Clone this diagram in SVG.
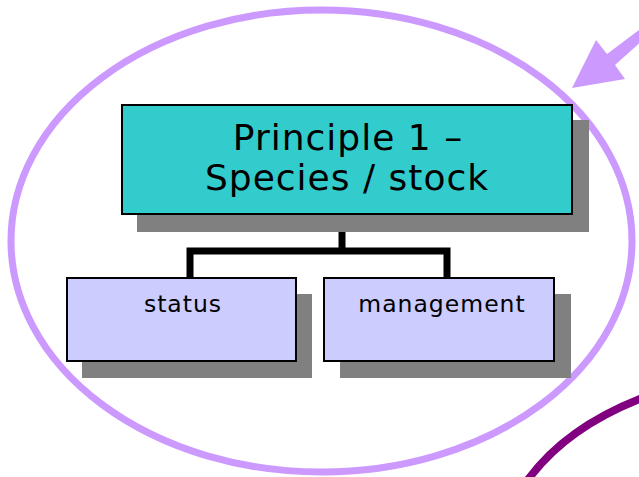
<svg xmlns="http://www.w3.org/2000/svg" width="639" height="477" viewBox="0 0 639 477">
<style>
.shadow{fill:#808080}
.box{stroke:#000;stroke-width:2}
.main{fill:#33CCCC}
.sub{fill:#CCCCFF}
.t{font-family:"DejaVu Sans","Verdana",sans-serif;fill:#000;text-anchor:middle}
.big{font-size:36px;letter-spacing:1px}
.small{font-size:23.5px;letter-spacing:1px}
.conn{fill:none;stroke:#000;stroke-width:7}
</style>
<rect width="639" height="477" fill="#fff"/>
<g id="ellipse">
<ellipse cx="321.5" cy="241" rx="310.5" ry="231" fill="none" stroke="#CC99FF" stroke-width="7"/>
</g>
<g id="arrow">
<polygon points="572,88 596,40 607,54 643,27 643,40 615,65 625,79" fill="#CC99FF"/>
</g>
<g id="arc">
<path d="M527 481 Q565 428 642 398" fill="none" stroke="#800080" stroke-width="8"/>
</g>
<g id="connectors">
<path class="conn" d="M342 214 V251"/>
<path class="conn" d="M190 279 V251 H447 V279"/>
</g>
<g id="principle">
<rect class="shadow" x="137" y="120" width="452" height="112"/>
<rect class="box main" x="122" y="105" width="450" height="109"/>
<text class="t big" x="348" y="150">Principle 1 –</text>
<text class="t big" x="347" y="190">Species / stock</text>
</g>
<g id="status">
<rect class="shadow" x="82" y="294" width="230" height="84"/>
<rect class="box sub" x="67" y="278" width="229" height="83"/>
<text class="t small" x="183" y="312">status</text>
</g>
<g id="management">
<rect class="shadow" x="340" y="294" width="231" height="84"/>
<rect class="box sub" x="324" y="278" width="230" height="83"/>
<text class="t small" x="442" y="312">management</text>
</g>
</svg>
